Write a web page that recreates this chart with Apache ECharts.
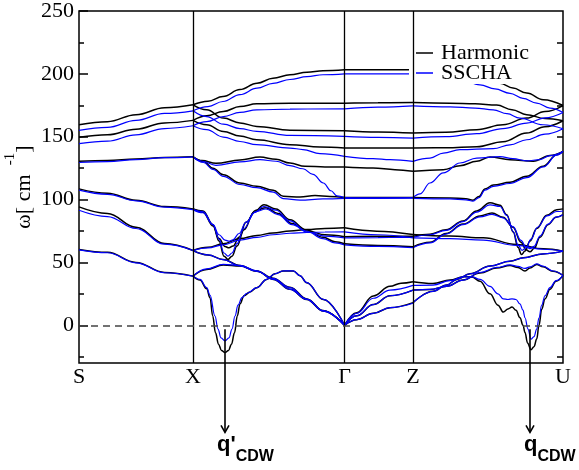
<!DOCTYPE html>
<html>
<head>
<meta charset="utf-8">
<script src="https://cdn.jsdelivr.net/npm/echarts@6/dist/echarts.min.js"></script>
<style>html,body{margin:0;padding:0;background:#fff;}#c{width:579px;height:470px;}</style>
</head>
<body>
<div id="c"></div>
<script>
// High-symmetry points along the k-path (path coordinate) and their labels
const kPoints = [79, 193, 344.5, 413, 563];
const kLabels = ['S', 'X', 'Γ', 'Z', 'U'];
const yTicks = [0, 50, 100, 150, 200, 250];
const yMinorTicks = [-25, 25, 75, 125, 175, 225];
const yRightTicks = [-25, 0, 25, 50, 75, 100, 125, 150, 175, 200, 225];
const seriesNames = ['Harmonic', 'SSCHA'];
// CDW wave-vector annotations: [label, path coordinate, frequency at arrow top]
const cdwMarks = [["q'", 225, -3.2], ['q', 530, -3.2]];

// ---------- Harmonic bands (ω in cm^-1) ----------
const harmonicSX = [
  [[79,159.5],[107.5,162],[136,167.5],[164.5,173],[193,175.4]],
  [[79,149.5],[107.5,151.5],[136,156],[164.5,161],[193,163]],
  [[79,130.5],[107.5,131],[136,132.3],[164.5,133.5],[193,134]],
  [[79,108.5],[107.5,105],[136,99.5],[164.5,94.5],[193,92.6]],
  [[79,94.2],[107.5,89],[136,78],[164.5,65],[193,59.5]],
  [[79,60.3],[107.5,58],[136,50],[164.5,42],[193,39.1]]
];
const harmonicXG = [
  [[193,175.4],[208,178.3],[223,182],[240,187.5],[257,192.6],[273,196.5],[290,199.2],[307,201.3],[323,202.5],[344.5,203.2]],
  [[193,163],[206.7,166.7],[223.3,170.1],[240,174],[256.7,176.2],[290,176.7],[344.5,176.7]],
  [[193,175.4],[206.7,171.4],[223.3,164.8],[240,161],[256.7,158.2],[290,155.2],[344.5,154.8]],
  [[193,163],[206.7,159.5],[223.3,154.2],[240,150.5],[256.7,147.6],[290,143.7],[320,141.8],[344.5,141]],
  [[193,134],[202,131],[216,128.8],[240,131.5],[260,133.8],[276,132],[290,129],[305,126.5],[325,126],[344.5,126]],
  [[193,134],[203.3,130.4],[213,125],[223.3,119.8],[240,113.2],[256.7,110.6],[273.3,107.4],[283.3,102.6],[300,102],[315,103.2],[330,102.5],[344.5,101.6]],
  [[193,92.6],[203,91],[213,80],[219,67],[224,55],[228,52.4],[232,55],[237,63],[244,76],[254,90],[264,95.8],[276,92.5],[290,84],[306,76],[323,70],[335,66.5],[344.5,64.8]],
  [[193,92.6],[203,90],[213,79],[219,69],[225,62.6],[229,61.6],[233,63],[239,70],[246,82],[256,91.5],[266,93.4],[278,89],[292,81],[308,75],[325,72],[344.5,70.5]],
  [[193,59.5],[208,62],[223,64.8],[240,69],[257,71.5],[273,73.5],[290,75],[307,76.2],[325,77],[344.5,77.5]],
  [[193,59.5],[208,56],[223,52.4],[240,47.5],[257,43],[273,37.5],[290,30.2],[307,21],[323,11.8],[344.5,0]],
  [[193,39.1],[206.7,44.4],[223.3,47.9],[240,47.1],[256.7,43.1],[273.3,36.5],[290,28.6],[306.7,20.6],[323.3,11.3],[344.5,0]],
  [[193,39.1],[200,36],[206.7,29],[210,22],[212.7,7.4],[215.5,-6],[218.5,-15],[221.5,-20],[225,-21.7],[228.5,-20],[231.5,-15],[234.5,-6],[237.3,7.4],[240,17],[244,23.5],[250,26.5],[256.7,29.9],[266.7,36.5],[275,41],[283.3,43.1],[293.3,43.1],[300,39.5],[306.7,33.9],[323.3,20.6],[344.5,0]]
];
const harmonicGZ = [
  [[344.5,203.2],[378,203.3],[413,203.2]],
  [[344.5,176.7],[378,177],[413,177.2]],
  [[344.5,154.8],[378,153.8],[413,152.9]],
  [[344.5,141],[378,141],[413,141]],
  [[344.5,126],[373,125.1],[395,123.8],[413,122.5]],
  [[344.5,101.6],[378,101.6],[413,101.6]],
  [[344.5,77.5],[376.7,74.9],[413,72.2]],
  [[344.5,70.5],[378,70.8],[413,70.8]],
  [[344.5,64.8],[378,63.5],[413,62.4]],
  [[344.5,0],[356.7,10],[373.3,23.3],[390,31],[401,33.5],[413,34.7]],
  [[344.5,0],[356.7,7.5],[373.3,16.5],[390,23.5],[413,28]],
  [[344.5,0],[356.7,4.5],[373.3,9.5],[390,14],[413,18]]
];
const harmonicZU = [
  [[413,203.2],[440,202.8],[460,200.5],[480,197],[500,192.6],[513,188.8],[526.7,184.7],[543.3,179.4],[563,174.8]],
  [[413,177.2],[450,176.7],[475,176.2],[496.7,175.2],[512,171.5],[526.7,167.5],[545,164.5],[563,162.7]],
  [[413,152.9],[446,153.5],[476.7,155.6],[503,159.5],[526.7,164.8],[545,170],[563,174.8]],
  [[413,141],[446,141.2],[476.7,142],[503,146],[526.7,152.9],[545,158],[563,162.7]],
  [[413,122.5],[443.3,123.8],[460,127],[476.7,130.4],[490,133.9],[510,131.7],[533.3,130.4],[550,135],[563,138.3]],
  [[413,101.6],[450,101.3],[466,100.7],[473,99.5],[479,102.5],[485,108.5],[493.3,111.5],[510,113.8],[526.7,118.5],[543.3,126.5],[556.7,135.7],[563,138.3]],
  [[413,72.2],[450,71],[483.3,69.6],[516.7,64.3],[543.3,60.8],[563,59]],
  [[413,70.8],[430,72.5],[446,76],[463,83],[476.7,91],[490,97.4],[500,95.5],[506.7,88],[513.3,74],[518,62],[521.5,56.3],[525,59],[530,67],[536.7,77],[546.7,87.5],[556.7,92],[563,92.6]],
  [[413,62.4],[430,66],[446,73],[463,80.5],[480,87],[492,89.4],[503,86],[513,78],[521,66],[526,60],[530,58.5],[534,61],[540,70],[548,80],[556,86],[563,88.1]],
  [[413,34.7],[433,33.3],[450,36],[463.3,38.6],[472,38.5],[480,35],[490,25],[498,16],[503.3,10.5],[508,13],[512,14.5],[516,12],[520,6],[523,0],[525,-5.8],[527.5,-14],[531,-19.5],[534,-17],[536.7,-11],[539,0],[541.7,12.7],[545,21],[550,28.6],[556,35],[563,39.7]],
  [[413,28],[430,28.5],[446.7,31],[463,36],[480,41.5],[496.7,45.5],[510,47.5],[518,46],[525,43.1],[530,45.5],[536.7,48.4],[543,46.5],[553,43],[563,39.7]],
  [[413,18],[433,27],[446.7,32],[456.7,36.5],[470,41],[490,47.1],[510,51],[523.3,53.7],[543,56.8],[563,59]]
];

// ---------- SSCHA bands (ω in cm^-1) ----------
const sschaSX = [
  [[79,155],[107.5,157.5],[136,163],[164.5,168.5],[193,170.6]],
  [[79,144.5],[107.5,146.5],[136,151.5],[164.5,156.5],[193,158.7]],
  [[79,129.5],[107.5,130.2],[136,131.8],[164.5,133.3],[193,134]],
  [[79,107.5],[107.5,104.2],[136,99],[164.5,94],[193,92]],
  [[79,91.5],[107.5,86.5],[136,77],[164.5,64.5],[193,59.5]],
  [[79,60],[107.5,57.7],[136,49.7],[164.5,41.8],[193,39.1]]
];
const sschaXG = [
  [[193,170.6],[208,174],[223,178],[240,183.5],[257,188.6],[273,192.5],[290,195.5],[307,197.8],[323,199.3],[344.5,200]],
  [[193,158.7],[206.7,162],[223.3,166],[240,169.3],[256.7,171.3],[290,172],[344.5,172.2]],
  [[193,170.6],[206.7,166],[223.3,160],[240,156.5],[256.7,154.2],[290,151],[344.5,150.3]],
  [[193,158.7],[206.7,155.6],[223.3,149.7],[240,146.2],[256.7,143.7],[290,141],[303,139.8],[320,136.5],[344.5,134.4]],
  [[193,134],[202,130.5],[216,127.2],[240,130],[260,131.7],[276,130.5],[290,127],[303,124.5],[313,120],[323.3,113.2],[331,107],[337,103],[344.5,101.6]],
  [[193,134],[203.3,129.5],[213,124],[223.3,118.5],[240,112],[256.7,109.5],[273.3,106],[283.3,100.8],[300,99.5],[323,100.5],[344.5,101]],
  [[193,92],[203,90.5],[213,80],[219,68.5],[224,57.5],[228,55],[232,57.5],[237,65],[244,77],[254,89.5],[264,94.5],[276,91.5],[290,83],[306,75],[323,69],[335,65.5],[344.5,64]],
  [[193,92],[203,89.5],[213,80],[219,72],[225,67.8],[229,66.9],[233,68],[239,73],[246,82],[256,90.5],[266,92.5],[278,88],[292,80],[308,74],[325,71],[344.5,69.5]],
  [[193,59.5],[208,61.5],[223,64],[240,67.8],[257,70],[273,72],[290,73.2],[307,73.8],[325,74.2],[344.5,74.3]],
  [[193,59.5],[208,56],[223,52.2],[240,47.3],[257,42.8],[273,37.3],[290,30],[307,20.8],[323,11.6],[344.5,0]],
  [[193,39.1],[206.7,44.8],[223.3,48.5],[240,47.6],[256.7,43.4],[273.3,36.5],[290,28.6],[306.7,20.6],[323.3,11.3],[344.5,0]],
  [[193,39.1],[200,36.5],[206.7,30],[210,24],[215,7.4],[218,-3],[221,-10],[225,-12.4],[229,-10],[232,-3],[235,7.4],[238,16],[242,22],[247,25.5],[256.7,29.9],[266.7,36.5],[275,41],[283.3,43.3],[293.3,43.3],[300,39.5],[306.7,33.9],[323.3,20.6],[344.5,0]]
];
const sschaGZ = [
  [[344.5,200],[378,200],[413,200]],
  [[344.5,172.2],[378,173.5],[413,174.6]],
  [[344.5,150.3],[378,149.5],[413,148.9]],
  [[344.5,134.4],[373,132.5],[390,131.7],[413,130.4]],
  [[344.5,101.6],[378,101.3],[413,101.3]],
  [[344.5,101],[378,101],[413,101.3]],
  [[344.5,74.3],[378,72],[413,69.6]],
  [[344.5,69.5],[378,69.8],[413,70]],
  [[344.5,64],[378,62.8],[413,61.8]],
  [[344.5,0],[356.7,9.5],[373.3,21.5],[390,28],[413,31.7]],
  [[344.5,0],[356.7,7.5],[373.3,16.5],[390,23.5],[413,28]],
  [[344.5,0],[356.7,4.5],[373.3,9.5],[390,14],[413,17.5]]
];
const sschaZU = [
  [[413,200],[440,199.5],[460,196],[480,191.3],[495,188],[510,184.5],[523,180.5],[536.7,176.7],[550,172.8],[563,169.3]],
  [[413,174.6],[450,173.8],[475,172.8],[493.3,171.4],[507,168.3],[520,164.8],[543,159.5],[563,156.3]],
  [[413,148.9],[446,150],[476.7,152.4],[503,156.5],[526.7,160.8],[545,165],[563,169.3]],
  [[413,130.4],[430,133],[443.3,137],[460,139.7],[493.3,140.5],[510,143.5],[526.7,147.6],[545,152],[563,156.3]],
  [[413,101.6],[420,104.5],[430,113.2],[443.3,121.2],[460,129.1],[476.7,133],[500,134.2],[513,132.5],[526.7,130.8],[540,131.8],[550,135],[563,138.3]],
  [[413,101],[450,100.5],[466,99.8],[473,98.7],[479,101.5],[485,107.5],[493.3,110.5],[510,112.8],[526.7,117.5],[543.3,126],[556.7,135.3],[563,138.3]],
  [[413,69.6],[450,69],[483.3,67.8],[516.7,63.5],[543.3,60.5],[563,59]],
  [[413,70],[430,72],[446,75.5],[463,82.5],[476.7,90],[490,95.8],[500,94.5],[506.7,87.5],[513.3,74.5],[518,64],[522,59.6],[526,61.5],[531,68.5],[537.5,78],[547,87],[556.7,90.5],[563,90.9]],
  [[413,61.8],[430,65.5],[446,72.5],[463,80],[480,86.2],[492,88.3],[503,85.5],[513,78.5],[521,67.5],[526,62.2],[530,61],[534,62.8],[540,71],[548,80.5],[556,86],[563,88]],
  [[413,31.7],[433,32],[450,35.5],[463.3,38.6],[472,38.5],[480,36.5],[490,31],[498,25],[503.3,21],[508,20.5],[512,21],[516,20.5],[520,17],[523,12],[525,6],[528,-3],[531,-11.1],[534,-9],[536.7,-3],[539,6],[541.7,16],[545,23.5],[550,30],[556,35.5],[563,39.7]],
  [[413,28],[430,28.5],[446.7,31],[463,36],[480,42],[496.7,46],[510,48],[518,46.8],[525,45.2],[530,46.5],[536.7,48.8],[543,47],[553,43.2],[563,39.7]],
  [[413,18],[433,27],[446.7,32],[456.7,36.5],[470,41],[490,47.1],[510,51],[523.3,53.7],[543,56.8],[563,59]]
];

const harmonicSegments = [harmonicSX, harmonicXG, harmonicGZ, harmonicZU];
const sschaSegments = [sschaSX, sschaXG, sschaGZ, sschaZU];

const chart = echarts.init(document.getElementById('c'), null, {renderer: 'canvas'});
const series = [];
function addBands(segments, name, color, width) {
  segments.forEach(seg => seg.forEach(band => {
    series.push({
      type: 'line', name: name, data: band,
      smooth: 0.4, smoothMonotone: 'x', symbol: 'none', silent: true,
      lineStyle: {color: color, width: width}, itemStyle: {color: color},
      z: 3
    });
  }));
}
addBands(harmonicSegments, seriesNames[0], '#000000', 1.5);
addBands(sschaSegments, seriesNames[1], '#0000ff', 1.2);

// high-symmetry vertical lines and the zero line
series[0].markLine = {
  silent: true, symbol: ['none', 'none'], label: {show: false}, animation: false,
  data: kPoints.slice(1, 4).map(k => ({xAxis: k, lineStyle: {color: '#000', width: 1.3, type: 'solid'}}))
    .concat([{yAxis: 0, lineStyle: {color: '#444', width: 1.5, type: [7, 5]}}])
};

const serif = "'Liberation Serif', 'DejaVu Serif', serif";
const sans = "'Liberation Sans', Arial, sans-serif";
chart.setOption({
  animation: false,
  backgroundColor: '#fff',
  textStyle: {fontFamily: serif},
  grid: {left: 79, right: 16, top: 11, bottom: 107, containLabel: false, outerBoundsMode: 'none',
    show: true, borderColor: '#000', borderWidth: 1.5, backgroundColor: 'transparent'},
  legend: {
    data: seriesNames, orient: 'vertical', left: 409, top: 33,
    padding: [9, 10, 0, 7], itemGap: -2, itemWidth: 17, itemHeight: 1.5, icon: 'rect',
    backgroundColor: '#fff', selectedMode: false,
    textStyle: {fontFamily: serif, fontSize: 22, color: '#000', padding: [0, 0, 0, 3]}
  },
  xAxis: {
    type: 'value', min: kPoints[0], max: kPoints[4],
    axisLine: {show: false}, axisTick: {show: false}, splitLine: {show: false},
    axisLabel: {
      customValues: kPoints, margin: 3, fontFamily: serif, fontSize: 22, color: '#000',
      formatter: v => kLabels[kPoints.indexOf(v)]
    }
  },
  yAxis: [
    {
      type: 'value', min: -30, max: 250, position: 'left',
      axisLine: {show: false}, splitLine: {show: false},
      axisTick: {show: true, inside: true, length: 9, customValues: yTicks, lineStyle: {color: '#000', width: 1.5}},
      axisLabel: {customValues: yTicks, margin: 5, fontFamily: serif, fontSize: 22, color: '#000'},
      name: '{a|ω[ cm }{b| -1}{a|]}', nameLocation: 'middle', nameRotate: 90, nameGap: 44,
      nameMoveOverlap: false,
      nameTextStyle: {
        fontFamily: serif, color: '#000',
        rich: {
          a: {fontFamily: serif, fontSize: 22, color: '#000', lineHeight: 32, verticalAlign: 'bottom'},
          b: {fontFamily: serif, fontSize: 15, color: '#000', lineHeight: 32, verticalAlign: 'top'}
        }
      }
    },
    {
      type: 'value', min: -30, max: 250, position: 'left',
      axisLine: {show: false}, splitLine: {show: false}, axisLabel: {show: false},
      axisTick: {show: true, inside: true, length: 5, customValues: yMinorTicks, lineStyle: {color: '#000', width: 1.5}}
    },
    {
      type: 'value', min: -30, max: 250, position: 'right',
      axisLine: {show: false}, splitLine: {show: false}, axisLabel: {show: false},
      axisTick: {show: true, inside: true, length: 6, customValues: yRightTicks, lineStyle: {color: '#000', width: 1.5}}
    }
  ],
  series: series
});

// CDW arrows and labels, positioned through the chart's own axes
const graphics = [];
cdwMarks.forEach(([label, k, w]) => {
  const p = chart.convertToPixel({gridIndex: 0}, [k, w]);
  const x = p[0], y = p[1];
  const len = 103;
  graphics.push({type: 'line', shape: {x1: x, y1: y, x2: x, y2: y + len}, style: {stroke: '#000', lineWidth: 1.6}, z: 10});
  graphics.push({type: 'polyline', shape: {points: [[x - 4, y + len - 7], [x, y + len], [x + 4, y + len - 7]]}, style: {stroke: '#000', fill: null, lineWidth: 1.6}, z: 10});
  graphics.push({
    type: 'text', x: x - (label.length > 1 ? 8 : 6), y: y + len + 2, z: 10,
    style: {
      text: '{q|' + label + '}{s|CDW}', textVerticalAlign: 'top', textAlign: 'left',
      rich: {
        q: {fontFamily: sans, fontWeight: 'bold', fontSize: 22, lineHeight: 30, verticalAlign: 'top', fill: '#000'},
        s: {fontFamily: sans, fontWeight: 'bold', fontSize: 16, lineHeight: 30, verticalAlign: 'bottom', fill: '#000'}
      }
    }
  });
});
chart.setOption({graphic: {elements: graphics}});
</script>
</body>
</html>
